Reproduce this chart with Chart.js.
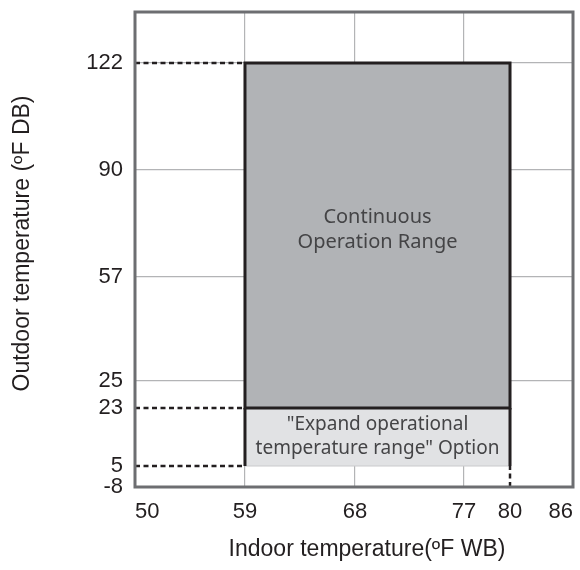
<!DOCTYPE html>
<html>
<head>
<meta charset="utf-8">
<title>Operation range</title>
<script src="https://cdn.jsdelivr.net/npm/chart.js@4.4.1/dist/chart.umd.min.js"></script>
<style>
    html, body { margin: 0; padding: 0; background: #ffffff; }
    canvas { display: block; }
</style>
</head>
<body>
<canvas id="rangeChart" width="580" height="570"></canvas>
<script>
// Axis ticks (°F) and the limits of each axis
const indoorTicks = [50, 59, 68, 77, 80, 86];
const outdoorTicks = [-8, 5, 23, 25, 57, 90, 122];
const indoorLimits = [50, 86];
const outdoorLimits = [-8, 138];

// Operating zones: indoor WB span and outdoor DB spans
const indoorRange = [59, 80];
const continuousRange = [23, 122];
const expandedRange = [5, 23];

const continuousLabel = ["Continuous", "Operation Range"];
const expandedLabel = ["\"Expand operational", "temperature range\" Option"];

// The axes are schematic, not to scale: each knot value sits at a fixed
// fraction of the axis and values in between are interpolated linearly.
class SchematicScale extends Chart.LinearScale {
    static id = "schematic";

    buildTicks() {
        return this.options.ticks.list.map(function (v) {
            return { value: v };
        });
    }

    valueToDecimal(value) {
        const vals = this.options.knots.values;
        const at = this.options.knots.at;
        let i = 0;
        while (i < vals.length - 2 && value > vals[i + 1]) i++;
        const span = vals[i + 1] - vals[i];
        if (!span) return at[i];
        return at[i] + (value - vals[i]) / span * (at[i + 1] - at[i]);
    }

    decimalToValue(dec) {
        const vals = this.options.knots.values;
        const at = this.options.knots.at;
        let i = 0;
        while (i < at.length - 2 && dec > at[i + 1]) i++;
        const span = at[i + 1] - at[i];
        if (!span) return vals[i];
        return vals[i] + (dec - at[i]) / span * (vals[i + 1] - vals[i]);
    }

    getPixelForValue(value) {
        if (value === null || isNaN(value)) return NaN;
        return this.getPixelForDecimal(this.valueToDecimal(value));
    }

    getValueForPixel(pixel) {
        return this.decimalToValue(this.getDecimalForPixel(pixel));
    }

    // the axis title is nudged off the plot centre
    drawTitle() {
        const shift = this.options.titleShift || 0;
        const ctx = this.ctx;
        ctx.save();
        if (this.isHorizontal()) {
            ctx.translate(shift, 0);
        } else {
            ctx.translate(0, shift);
        }
        super.drawTitle();
        ctx.restore();
    }
}
Chart.register(SchematicScale);

function zoneBox(xr, yr) {
    return [
        { x: xr[0], y: yr[0] },
        { x: xr[0], y: yr[1] },
        { x: xr[1], y: yr[1] },
        { x: xr[1], y: yr[0] },
        { x: xr[0], y: yr[0] }
    ];
}

// Black side walls of the optional zone
const optionSides = [
    { x: indoorRange[0], y: expandedRange[0] },
    { x: indoorRange[0], y: expandedRange[1] },
    { x: indoorRange[0], y: null },
    { x: indoorRange[1], y: expandedRange[0] },
    { x: indoorRange[1], y: expandedRange[1] }
];

// Dotted leaders from the axes to the zone corners
const guideLines = [
    { x: indoorLimits[0], y: continuousRange[1] },
    { x: indoorRange[0], y: continuousRange[1] },
    { x: indoorRange[0], y: null },
    { x: indoorLimits[0], y: expandedRange[1] },
    { x: indoorRange[0], y: expandedRange[1] },
    { x: indoorRange[0], y: null },
    { x: indoorLimits[0], y: expandedRange[0] },
    { x: indoorRange[0], y: expandedRange[0] },
    { x: indoorRange[0], y: null },
    { x: indoorRange[1], y: outdoorLimits[0] },
    { x: indoorRange[1], y: expandedRange[0] }
];

const tickFont = { family: "'Liberation Sans', Arial, sans-serif", size: 22 };
const titleFont = { family: "'Liberation Sans', Arial, sans-serif", size: 23 };
const ink = "#231f20";
const gridColor = "#b3b4b6";

function drawLines(ctx, lines, cx, cy, size, step) {
    ctx.font = size + "px 'Noto Sans', 'Open Sans', sans-serif";
    ctx.fillStyle = "#444446";
    ctx.textAlign = "center";
    ctx.textBaseline = "middle";
    const first = cy - (lines.length - 1) * step / 2;
    lines.forEach(function (line, i) {
        ctx.fillText(line, cx, first + i * step);
    });
}

const frameAndText = {
    id: "frameAndText",
    afterDatasetsDraw(chart) {
        const { ctx, chartArea, scales } = chart;
        const x = scales.x;
        const y = scales.y;

        ctx.save();
        ctx.strokeStyle = "#6d6e71";
        ctx.lineWidth = 3;
        ctx.strokeRect(chartArea.left, chartArea.top, chartArea.width, chartArea.height);

        const cx = (x.getPixelForValue(indoorRange[0]) + x.getPixelForValue(indoorRange[1])) / 2;
        const cyTop = (y.getPixelForValue(continuousRange[0]) + y.getPixelForValue(continuousRange[1])) / 2;
        const cyLow = (y.getPixelForValue(expandedRange[0]) + y.getPixelForValue(expandedRange[1])) / 2;
        drawLines(ctx, continuousLabel, cx, cyTop - 6, 20, 25);
        drawLines(ctx, expandedLabel, cx, cyLow, 19, 24);
        ctx.restore();
    }
};

new Chart(document.getElementById("rangeChart"), {
    type: "line",
    data: {
        datasets: [
            {
                label: "Continuous operation",
                data: zoneBox(indoorRange, continuousRange),
                fill: "shape",
                backgroundColor: "#b1b3b6",
                borderColor: ink,
                borderWidth: 3,
                borderJoinStyle: "miter",
                borderCapStyle: "square",
                pointRadius: 0,
                order: 2
            },
            {
                label: "Expanded option",
                data: zoneBox(indoorRange, expandedRange),
                fill: "shape",
                backgroundColor: "#e1e2e4",
                borderColor: "#c9cacc",
                borderWidth: 1,
                pointRadius: 0,
                order: 3
            },
            {
                label: "Option walls",
                data: optionSides,
                fill: false,
                borderColor: ink,
                borderWidth: 3,
                pointRadius: 0,
                order: 1
            },
            {
                label: "Guides",
                data: guideLines,
                fill: false,
                borderColor: ink,
                borderWidth: 2.5,
                borderDash: [5, 3.5],
                pointRadius: 0,
                order: 0
            }
        ]
    },
    options: {
        responsive: false,
        animation: false,
        layout: { padding: { top: 12, right: 7, bottom: 0, left: 0 } },
        plugins: {
            legend: { display: false },
            tooltip: { enabled: false }
        },
        scales: {
            x: {
                type: "schematic",
                min: indoorLimits[0],
                max: indoorLimits[1],
                knots: {
                    values: indoorTicks,
                    at: [0, 0.2511, 0.5023, 0.7511, 0.8562, 1]
                },
                titleShift: 13,
                border: { display: false },
                grid: {
                    drawTicks: false,
                    lineWidth: 1.2,
                    color: function (ctx) {
                        return ctx.tick && ctx.tick.value === indoorRange[1] ? "rgba(0,0,0,0)" : gridColor;
                    }
                },
                ticks: {
                    list: indoorTicks,
                    align: "inner",
                    autoSkip: false,
                    maxRotation: 0,
                    padding: 12,
                    color: ink,
                    font: tickFont,
                    callback: function (v) { return String(v); }
                },
                title: {
                    display: true,
                    text: "Indoor temperature(ºF WB)",
                    color: ink,
                    font: titleFont,
                    padding: { top: 0, bottom: 7 }
                },
                afterFit: function (scale) {
                    scale.height = 83;
                    scale.paddingLeft = 0;
                    scale.paddingRight = 0;
                }
            },
            y: {
                type: "schematic",
                min: outdoorLimits[0],
                max: outdoorLimits[1],
                knots: {
                    values: outdoorTicks.concat([outdoorLimits[1]]),
                    at: [0, 0.0442, 0.1663, 0.2232, 0.4421, 0.6674, 0.8926, 1]
                },
                titleShift: -6,
                border: { display: false },
                grid: {
                    drawTicks: false,
                    lineWidth: 1.2,
                    color: function (ctx) {
                        if (!ctx.tick) return gridColor;
                        const v = ctx.tick.value;
                        return v === expandedRange[0] || v === expandedRange[1] ? "rgba(0,0,0,0)" : gridColor;
                    }
                },
                ticks: {
                    list: outdoorTicks,
                    autoSkip: false,
                    padding: 12,
                    color: ink,
                    font: tickFont,
                    callback: function (v) { return String(v); }
                },
                title: {
                    display: true,
                    text: "Outdoor temperature (ºF DB)",
                    color: ink,
                    font: titleFont,
                    padding: { top: 9, bottom: 0 }
                },
                afterFit: function (scale) {
                    scale.width = 135;
                    scale.paddingTop = 0;
                    scale.paddingBottom = 0;
                }
            }
        }
    },
    plugins: [frameAndText]
});
</script>
</body>
</html>
